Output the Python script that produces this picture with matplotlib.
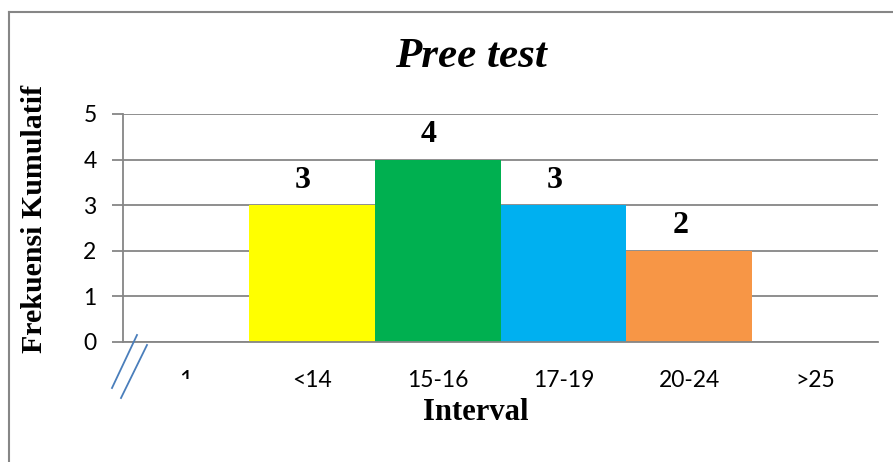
import matplotlib
matplotlib.use("Agg")
import matplotlib.pyplot as plt
from matplotlib.lines import Line2D
from matplotlib.transforms import Bbox, TransformedBbox

categories = ["1", "<14", "15-16", "17-19", "20-24", ">25"]
values = [0, 3, 4, 3, 2, 0]
colors = ["#FFFFFF", "#FFFF00", "#00B050", "#00B0F0", "#F79646", "#FFFFFF"]
bar_labels = ["", "3", "4", "3", "2", ""]
yticks = [0, 1, 2, 3, 4, 5]

serif = "Liberation Serif"
sans = "Lato"
grid_col = "#868686"

fig = plt.figure(figsize=(8.93, 4.62), dpi=100)
ax = fig.add_axes([123 / 893, 1 - 342 / 462, (878 - 123) / 893, (342 - 114) / 462])

x = list(range(len(categories)))
for i, v in enumerate(values):
    if v > 0:
        ax.bar(i, v, width=1.0, color=colors[i], zorder=3)
        ax.text(i - 0.07, v + 0.55, bar_labels[i], ha="center", va="center",
                fontsize=23, fontweight="bold", fontfamily=serif, zorder=4)

ax.set_xlim(-0.5, len(categories) - 0.5)
ax.set_ylim(0, 5)
ax.set_yticks(yticks)
ax.set_xticks(x)
ax.set_xticklabels(categories, fontsize=16.5, fontfamily=sans)
ax.set_yticklabels([str(t) for t in yticks], fontsize=16.5, fontfamily=sans)
ax.tick_params(axis="y", length=8, width=1.3, color=grid_col, pad=11)
ax.tick_params(axis="x", length=0, pad=20)
ax.yaxis.grid(True, color=grid_col, linewidth=1.3, zorder=0)
ax.set_axisbelow(True)
for s in ["top", "right"]:
    ax.spines[s].set_visible(False)
for s in ["left", "bottom"]:
    ax.spines[s].set_color(grid_col)
    ax.spines[s].set_linewidth(1.3)
    ax.spines[s].set_zorder(5)

# first category label is cut off in the original
fig.canvas.draw()
lab0 = ax.get_xticklabels()[0]
clip = TransformedBbox(Bbox([[0, 1 - 379 / 462], [1, 1]]), fig.transFigure)
lab0.set_clip_box(clip)
lab0.set_clip_on(True)

fig.text(471 / 893, 1 - 57 / 462, "Pree test", ha="center", va="center",
         fontsize=31, fontweight="bold", fontstyle="italic", fontfamily=serif)
fig.text(476 / 893, 1 - 413 / 462, "Interval", ha="center", va="center",
         fontsize=22, fontweight="bold", fontfamily=serif)
fig.text(35 / 893, 1 - 219 / 462, "Frekuensi Kumulatif", ha="center", va="center",
         rotation=90, fontsize=21.5, fontweight="bold", fontfamily=serif)

# axis break marks
brk = "#4A7EBB"
for (x0, y0, x1, y1) in [(137, 335, 112, 388), (147, 345, 121, 398)]:
    fig.add_artist(Line2D([x0 / 893, x1 / 893], [1 - y0 / 462, 1 - y1 / 462],
                          transform=fig.transFigure, color=brk, linewidth=1.3))

# outer chart border (right and bottom are cut off)
fig.add_artist(Line2D([9 / 893, 9 / 893], [0, 1 - 12 / 462],
                      transform=fig.transFigure, color=grid_col, linewidth=1.5))
fig.add_artist(Line2D([9 / 893, 1], [1 - 12 / 462, 1 - 12 / 462],
                      transform=fig.transFigure, color=grid_col, linewidth=1.5))

fig.savefig("out.png", dpi=100)
